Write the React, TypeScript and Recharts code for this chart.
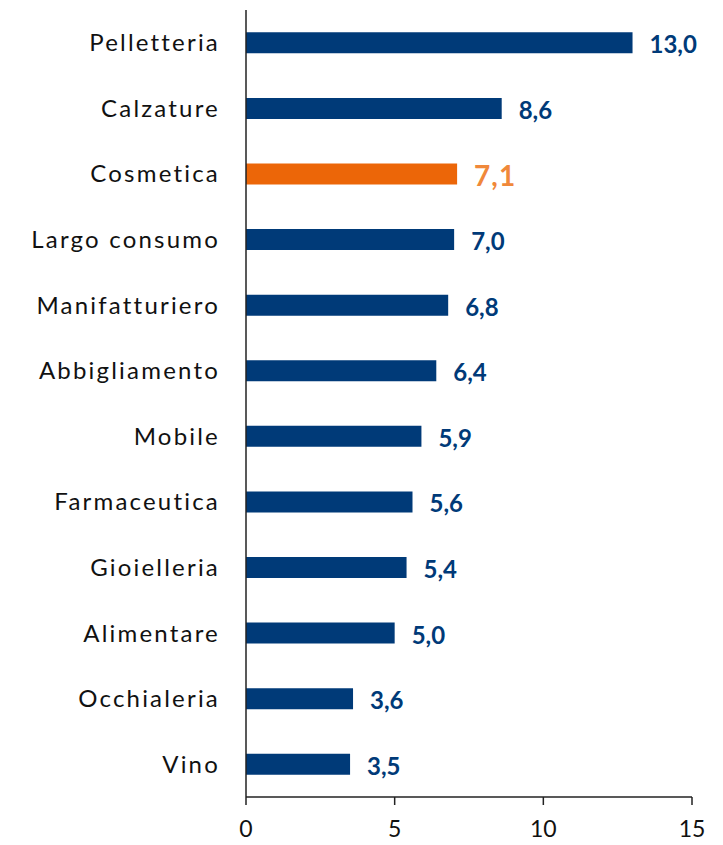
import { BarChart, Bar, XAxis, YAxis, Cell, LabelList } from "recharts";

// settori e valori (%)
const categories = [
  "Pelletteria",
  "Calzature",
  "Cosmetica",
  "Largo consumo",
  "Manifatturiero",
  "Abbigliamento",
  "Mobile",
  "Farmaceutica",
  "Gioielleria",
  "Alimentare",
  "Occhialeria",
  "Vino",
];
const values = [13.0, 8.6, 7.1, 7.0, 6.8, 6.4, 5.9, 5.6, 5.4, 5.0, 3.6, 3.5];
const highlighted = "Cosmetica";
const xTicks = [0, 5, 10, 15];

const BLUE = "#003A78";
const ORANGE = "#EC6608";
const ORANGE_LABEL = "#F0883A";
const FONT = "Lato, 'Open Sans', sans-serif";

const data = categories.map((name, i) => ({ name, value: values[i] }));

const ValueLabel = (props: any) => {
  const { x, y, width, height, value, index } = props;
  const hl = data[index].name === highlighted;
  return (
    <text
      x={x + width + 17}
      y={y + height / 2 + 1}
      dominantBaseline="central"
      fill={hl ? ORANGE_LABEL : BLUE}
      fontSize={hl ? 28 : 24}
      fontWeight={700}
      fontFamily={FONT}
      letterSpacing={hl ? 1 : 0}
    >
      {Number(value).toFixed(1).replace(".", ",")}
    </text>
  );
};

export default function App() {
  return (
    <div style={{ position: "absolute", left: 0, top: 0, background: "#fff" }}>
      <BarChart
        width={723}
        height={845}
        data={data}
        layout="vertical"
        margin={{ top: 10, right: 31, left: 0, bottom: 0 }}
        barCategoryGap="34%"
      >
        <XAxis
          type="number"
          domain={[0, 15]}
          ticks={xTicks}
          height={48}
          stroke="#222"
          strokeWidth={1.5}
          tickSize={8}
          tickMargin={16}
          tick={{ fill: "#111", fontSize: 23, fontFamily: FONT }}
        />
        <YAxis
          type="category"
          dataKey="name"
          width={246}
          stroke="#222"
          strokeWidth={1.5}
          tickLine={false}
          tickMargin={20}
          interval={0}
          tick={{ fill: "#111", fontSize: 24, fontFamily: FONT, letterSpacing: 2.2 }}
        />
        <Bar dataKey="value" isAnimationActive={false}>
          {data.map((d) => (
            <Cell key={d.name} fill={d.name === highlighted ? ORANGE : BLUE} />
          ))}
          <LabelList dataKey="value" content={ValueLabel} />
        </Bar>
      </BarChart>
    </div>
  );
}
